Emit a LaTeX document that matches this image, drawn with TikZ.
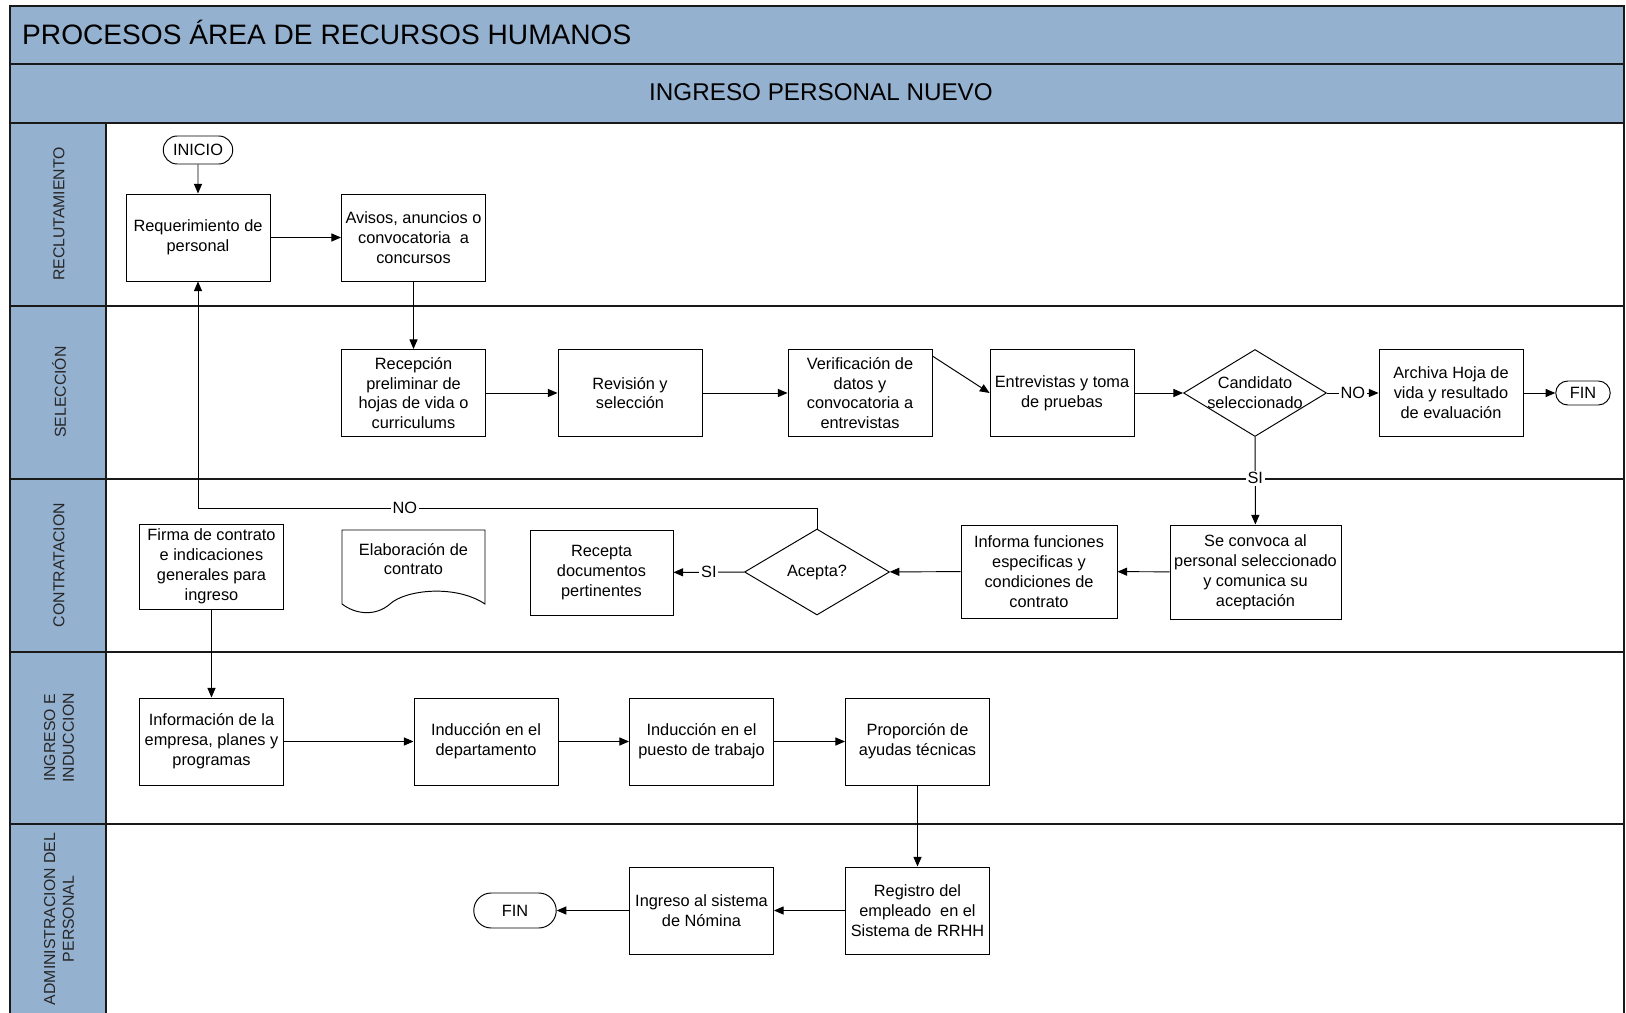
\documentclass[tikz,border=0pt]{standalone}
\usepackage{fontspec}
\setmainfont{Liberation Sans}
\usetikzlibrary{shapes.geometric, shapes.misc, positioning, arrows.meta}

\definecolor{carril}{RGB}{149,177,208}
\definecolor{borde}{RGB}{25,25,25}

\begin{document}
\begin{tikzpicture}[
            x=0.02cm, y=-0.02cm,
            font=\fontsize{9.3}{11.3}\selectfont,
            box/.style={draw, rectangle, align=center, inner sep=1pt, line width=0.55pt, minimum width=2.88cm, minimum height=1.74cm},
            decision/.style={draw, diamond, inner sep=0pt, line width=0.55pt, minimum width=2.88cm, minimum height=1.74cm},
            terminal/.style={draw, rounded rectangle, inner sep=1pt, line width=0.55pt},
            flecha/.style={-{Triangle[length=5.5pt, width=4.6pt]}, line width=0.55pt},
            rotulo/.style={fill=white, inner sep=1pt},
            linea/.style={line width=1.1pt, draw=borde}
            ]

            \useasboundingbox (0,0) rectangle (1626,1013);

            % encabezados
            \draw[linea, fill=carril] (10,6) rectangle (1624,64);
            \draw[linea, fill=carril] (10,64) rectangle (1624,123);
            \node[anchor=west, font=\fontsize{16}{19}\selectfont] (titulo) at (16,32) {PROCESOS ÁREA DE RECURSOS HUMANOS};
            \node[font=\fontsize{13.8}{16}\selectfont] (subtitulo) at (821,92) {INGRESO PERSONAL NUEVO};

            % carriles
            \foreach \ytop/\ybot/\ymid/\nombre in {123/306/214/RECLUTAMIENTO, 306/479/392/SELECCIÓN, 479/652/565/CONTRATACION, 652/824/738/{INGRESO E\\INDUCCION}, 824/1020/919/{ADMINISTRACION DEL\\PERSONAL}} {
                \draw[linea] (10,\ytop) rectangle (1624,\ybot);
                \draw[linea, fill=carril] (10,\ytop) rectangle (106,\ybot);
                \node[rotate=90, align=center, font=\fontsize{9}{10.6}\selectfont, text=black!85] at (59,\ymid) {\nombre};
            }

            % reclutamiento
            \node[terminal, minimum width=1.46cm, minimum height=0.56cm] (inicio) at (198,150) {INICIO};
            \node[box] (req) at (198,237.5) {Requerimiento de\\personal};
            \node[box] (avisos) at (413.5,237.5) {Avisos, anuncios o\\convocatoria\ \ a\\concursos};

            % seleccion
            \node[box] (recep) at (413.5,393) {Recepción\\preliminar de\\hojas de vida o\\curriculums};
            \node[box] (revision) at (630,393) {Revisión y\\selección};
            \node[box] (verif) at (860,393) {Verificación de\\datos y\\convocatoria a\\entrevistas};
            \node[box] (entrev) at (1062,393) {Entrevistas y toma\\de pruebas};
            \node[decision, minimum width=2.86cm, label={[align=center]center:Candidato\\seleccionado}] (cand) at (1255,393) {};
            \node[box] (archiva) at (1451,393) {Archiva Hoja de\\vida y resultado\\de evaluación};
            \node[terminal, minimum width=1.16cm, minimum height=0.48cm] (fin1) at (1583,393) {FIN};

            % contratacion
            \node[box, minimum height=1.7cm] (firma) at (211.5,566.5) {Firma de contrato\\e indicaciones\\generales para\\ingreso};
            \node[align=center] (elab) at (413.5,559) {Elaboración de\\contrato};
            \draw[line width=0.55pt] (342,604) -- (342,530) -- (485,530) -- (485,604)
                .. controls (455,584) and (405,590) .. (390,604)
                .. controls (375,617) and (355,614) .. (342,604);
            \node[box, minimum width=2.86cm, minimum height=1.7cm] (recepta) at (601.5,572.5) {Recepta\\documentos\\pertinentes};
            \node[decision, minimum width=2.9cm, minimum height=1.72cm, label={center:Acepta?}] (acepta) at (817,572) {};
            \node[box, minimum width=3.12cm, minimum height=1.86cm] (informa) at (1039,571.5) {Informa funciones\\especificas y\\condiciones de\\contrato};
            \node[box, minimum width=3.42cm, minimum height=1.88cm] (convoca) at (1255.5,572) {Se convoca al\\personal seleccionado\\y comunica su\\aceptación};

            % ingreso e induccion
            \node[box] (info) at (211.5,741.5) {Información de la\\empresa, planes y\\programas};
            \node[box] (inddep) at (486,741.5) {Inducción en el\\departamento};
            \node[box] (indpue) at (701.5,741.5) {Inducción en el\\puesto de trabajo};
            \node[box] (ayudas) at (917.5,741.5) {Proporción de\\ayudas técnicas};

            % administracion del personal
            \node[box] (registro) at (917.5,910.5) {Registro del\\empleado\ \ en el\\Sistema de RRHH};
            \node[box] (nomina) at (701.5,910.5) {Ingreso al sistema\\de Nómina};
            \node[terminal, minimum width=1.72cm, minimum height=0.7cm] (fin2) at (515,910.5) {FIN};

            % conectores
            \coordinate (vuelta) at (198,508);
            \draw[flecha] (inicio) -- (req);
            \draw[flecha] (req) -- (avisos);
            \draw[flecha] (avisos) -- (recep);
            \draw[flecha] (recep) -- (revision);
            \draw[flecha] (revision) -- (verif);
            \draw[flecha] (verif.27) -- (entrev.west);
            \draw[flecha] (entrev) -- (cand);
            \draw[flecha] (cand) -- node[rotulo, pos=0.5] {NO} (archiva);
            \draw[flecha] (archiva) -- (fin1);
            \draw[flecha] (cand) -- node[rotulo, pos=0.47] {SI} (convoca);
            \draw[flecha] (convoca) -- (informa);
            \draw[flecha] (informa) -- (acepta);
            \draw[flecha] (acepta) -- node[rotulo, pos=0.5] {SI} (recepta);
            \draw[flecha] (acepta.north) |- (vuelta) node[rotulo, pos=0.833] {NO} -- (req.south);
            \draw[flecha] (firma) -- (info);
            \draw[flecha] (info) -- (inddep);
            \draw[flecha] (inddep) -- (indpue);
            \draw[flecha] (indpue) -- (ayudas);
            \draw[flecha] (ayudas) -- (registro);
            \draw[flecha] (registro) -- (nomina);
            \draw[flecha] (nomina) -- (fin2);

        \end{tikzpicture}
\end{document}
